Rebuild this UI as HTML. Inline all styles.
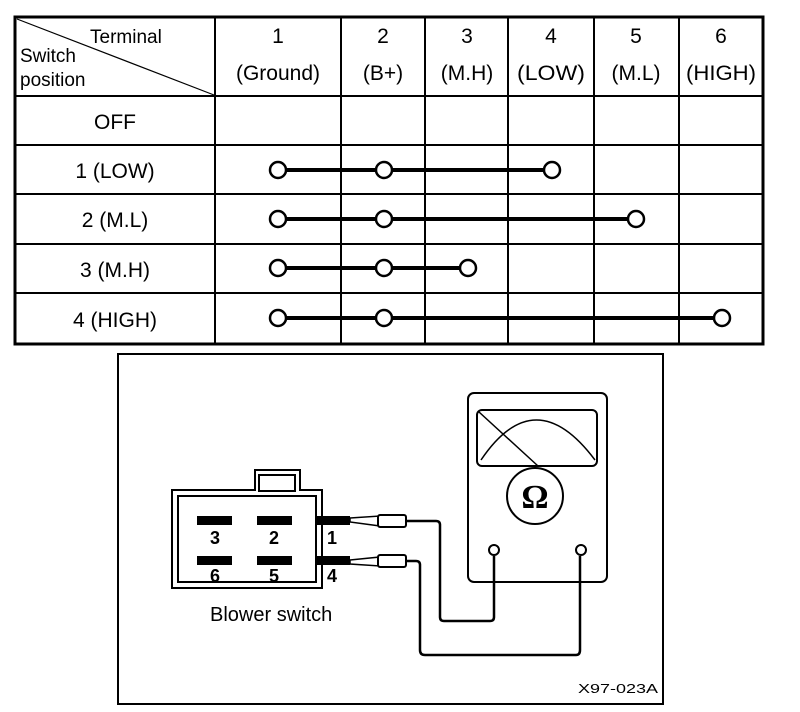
<!DOCTYPE html>
<html><head><meta charset="utf-8"><style>
html,body{margin:0;padding:0;background:#fff;}
svg{display:block;}
text{font-family:"Liberation Sans",sans-serif;fill:#000;}
</style></head><body>
<svg width="800" height="712" viewBox="0 0 800 712" xmlns="http://www.w3.org/2000/svg">
<g stroke="#000" fill="none">
<rect x="15" y="17" width="748" height="327" stroke-width="3"/>
<g stroke-width="2">
<line x1="215" y1="17" x2="215" y2="344"/>
<line x1="341" y1="17" x2="341" y2="344"/>
<line x1="425" y1="17" x2="425" y2="344"/>
<line x1="508" y1="17" x2="508" y2="344"/>
<line x1="594" y1="17" x2="594" y2="344"/>
<line x1="679" y1="17" x2="679" y2="344"/>
<line x1="15" y1="96" x2="763" y2="96"/>
<line x1="15" y1="145" x2="763" y2="145"/>
<line x1="15" y1="194" x2="763" y2="194"/>
<line x1="15" y1="244" x2="763" y2="244"/>
<line x1="15" y1="293" x2="763" y2="293"/>
</g>
<line x1="17" y1="19" x2="214" y2="95" stroke-width="1.2"/>
<g stroke-width="4">
<line x1="278" y1="170" x2="552" y2="170"/>
<line x1="278" y1="219" x2="636" y2="219"/>
<line x1="278" y1="268" x2="468" y2="268"/>
<line x1="278" y1="318" x2="722" y2="318"/>
</g>
<g stroke-width="2.5" fill="#fff">
<circle cx="278" cy="170" r="8"/><circle cx="384" cy="170" r="8"/><circle cx="552" cy="170" r="8"/>
<circle cx="278" cy="219" r="8"/><circle cx="384" cy="219" r="8"/><circle cx="636" cy="219" r="8"/>
<circle cx="278" cy="268" r="8"/><circle cx="384" cy="268" r="8"/><circle cx="468" cy="268" r="8"/>
<circle cx="278" cy="318" r="8"/><circle cx="384" cy="318" r="8"/><circle cx="722" cy="318" r="8"/>
</g>
</g>
<g font-size="19">
<text x="90" y="43">Terminal</text>
<text x="20" y="62">Switch</text>
<text x="20" y="86">position</text>
<g text-anchor="middle" font-size="21">
<text x="278" y="43">1</text><text x="278" y="80">(Ground)</text>
<text x="383" y="43">2</text><text x="383" y="80">(B+)</text>
<text x="467" y="43">3</text><text x="467" y="80">(M.H)</text>
<text x="551" y="43">4</text><text x="551" y="80" textLength="68" lengthAdjust="spacingAndGlyphs">(LOW)</text>
<text x="636" y="43">5</text><text x="636" y="80">(M.L)</text>
<text x="721" y="43">6</text><text x="721" y="80" textLength="70" lengthAdjust="spacingAndGlyphs">(HIGH)</text>
<text x="115" y="129">OFF</text>
<text x="115" y="178">1 (LOW)</text>
<text x="115" y="227">2 (M.L)</text>
<text x="115" y="277">3 (M.H)</text>
<text x="115" y="327">4 (HIGH)</text>
</g>
</g>
<g stroke="#000" fill="none">
<rect x="118" y="354" width="545" height="350" stroke-width="2"/>
<path d="M172 490 H255 V470 H300 V490 H322 V588 H172 Z" stroke-width="2"/>
<rect x="178" y="496" width="138" height="86" stroke-width="2"/>
<rect x="259" y="475" width="36" height="16" stroke-width="2"/>
<g fill="#000" stroke="none">
<rect x="197" y="516" width="35" height="9"/><rect x="257" y="516" width="35" height="9"/><rect x="315" y="516" width="35" height="9"/>
<rect x="197" y="556" width="35" height="9"/><rect x="257" y="556" width="35" height="9"/><rect x="315" y="556" width="35" height="9"/>
</g>
<path d="M350 518 L380 516 V526 L350 522 Z" stroke-width="1.5" fill="#fff"/>
<path d="M350 560 L380 557 V566 L350 564 Z" stroke-width="1.5" fill="#fff"/>
<rect x="378" y="515" width="28" height="12" rx="2" stroke-width="2" fill="#fff"/>
<rect x="378" y="555" width="28" height="12" rx="2" stroke-width="2" fill="#fff"/>
<path d="M406 521 H436 Q440 521 440 525 V617 Q440 621 444 621 H490 Q494 621 494 617 V556" stroke-width="2.5"/>
<path d="M406 561 H416 Q420 561 420 565 V650 Q420 655 425 655 H576 Q580 655 580 650 V556" stroke-width="2.5"/>
<rect x="468" y="393" width="139" height="189" rx="6" stroke-width="2"/>
<rect x="477" y="410" width="120" height="56" rx="5" stroke-width="2"/>
<line x1="479" y1="412" x2="538" y2="466" stroke-width="1.5"/>
<path d="M481 460 Q535 380 595 460" stroke-width="1.5"/>
<circle cx="535" cy="496" r="28" stroke-width="2"/>
<circle cx="494" cy="550" r="5" stroke-width="2" fill="#fff"/>
<circle cx="581" cy="550" r="5" stroke-width="2" fill="#fff"/>
</g>
<text x="535" y="508" text-anchor="middle" font-size="34" font-weight="bold" style="font-family:'Liberation Serif',serif">Ω</text>
<g font-size="18" text-anchor="middle" font-weight="bold">
<text x="215" y="544">3</text><text x="274" y="544">2</text><text x="332" y="544">1</text>
<text x="215" y="582">6</text><text x="274" y="582">5</text><text x="332" y="582">4</text>
</g>
<text x="210" y="621" font-size="20">Blower switch</text>
<text x="578" y="693" font-size="13" textLength="80" lengthAdjust="spacingAndGlyphs">X97-023A</text>
</svg>
</body></html>
